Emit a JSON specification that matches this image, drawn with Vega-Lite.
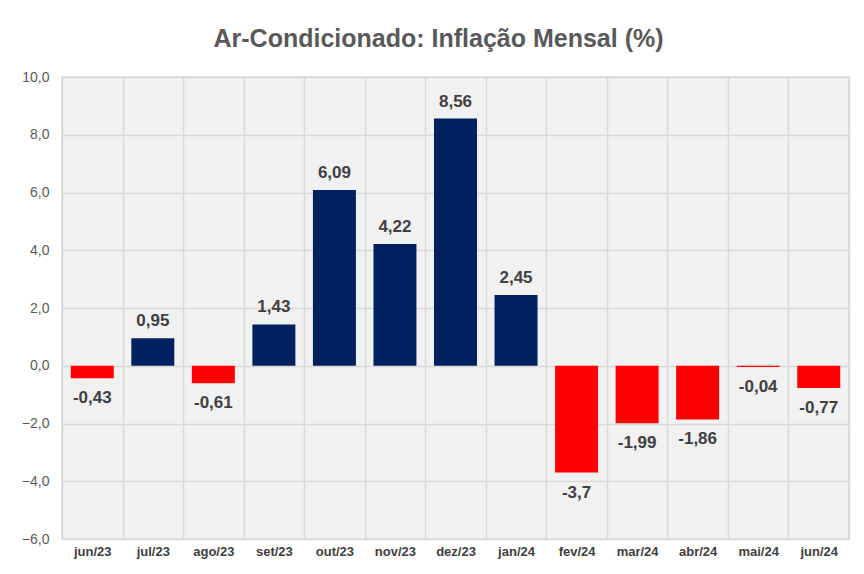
{
  "$schema": "https://vega.github.io/schema/vega-lite/v6.json",
  "width": 787,
  "height": 462,
  "autosize": {"type": "none"},
  "padding": {"left": 62, "top": 77, "right": 15, "bottom": 35},
  "background": "white",
  "title": {
    "text": "Ar-Condicionado: Inflação Mensal (%)",
    "fontSize": 25,
    "fontWeight": "bold",
    "font": "Liberation Sans",
    "color": "#595959",
    "anchor": "middle",
    "dx": -17,
    "offset": 18
  },
  "config": {
    "view": {"fill": "#f1f1f1", "stroke": "#d9d9d9", "strokeWidth": 1.5},
    "font": "Liberation Sans"
  },
  "data": {
    "values": [
      {"mes": "jun/23", "v": -0.43},
      {"mes": "jul/23", "v": 0.95},
      {"mes": "ago/23", "v": -0.61},
      {"mes": "set/23", "v": 1.43},
      {"mes": "out/23", "v": 6.09},
      {"mes": "nov/23", "v": 4.22},
      {"mes": "dez/23", "v": 8.56},
      {"mes": "jan/24", "v": 2.45},
      {"mes": "fev/24", "v": -3.7},
      {"mes": "mar/24", "v": -1.99},
      {"mes": "abr/24", "v": -1.86},
      {"mes": "mai/24", "v": -0.04},
      {"mes": "jun/24", "v": -0.77}
    ]
  },
  "transform": [
    {"calculate": "replace(toString(datum.v), '.', ',')", "as": "lbl"}
  ],
  "encoding": {
    "x": {
      "field": "mes",
      "type": "nominal",
      "sort": null,
      "scale": {"paddingInner": 0, "paddingOuter": 0},
      "axis": {
        "title": null,
        "labelAngle": 0,
        "labelFont": "Liberation Sans",
        "labelFontSize": 13,
        "labelFontWeight": "bold",
        "labelColor": "#404040",
        "labelPadding": 6,
        "ticks": false,
        "domain": false,
        "grid": true,
        "tickBand": "extent",
        "gridColor": "#d9d9d9",
        "gridWidth": 1.5
      }
    },
    "y": {
      "field": "v",
      "type": "quantitative",
      "scale": {"domain": [-6, 10], "nice": false, "zero": false},
      "axis": {
        "title": null,
        "values": [-6, -4, -2, 0, 2, 4, 6, 8, 10],
        "labelExpr": "replace(format(datum.value, '.1f'), '.', ',')",
        "labelFontSize": 14,
        "labelColor": "#595959",
        "labelPadding": 13,
        "ticks": false,
        "domain": false,
        "grid": true,
        "gridColor": "#d9d9d9",
        "gridWidth": 1.5
      }
    }
  },
  "layer": [
    {
      "mark": {"type": "bar", "width": {"band": 0.71}},
      "encoding": {
        "y2": {"datum": 0},
        "color": {
          "condition": {"test": "datum.v >= 0", "value": "#002060"},
          "value": "#ff0000"
        }
      }
    },
    {
      "transform": [{"filter": "datum.v >= 0"}],
      "mark": {"type": "text", "dy": -17, "fontSize": 17, "fontWeight": "bold", "color": "#404040"},
      "encoding": {"text": {"field": "lbl"}}
    },
    {
      "transform": [{"filter": "datum.v < 0"}],
      "mark": {"type": "text", "dy": 20, "fontSize": 17, "fontWeight": "bold", "color": "#404040"},
      "encoding": {"text": {"field": "lbl"}}
    }
  ]
}
